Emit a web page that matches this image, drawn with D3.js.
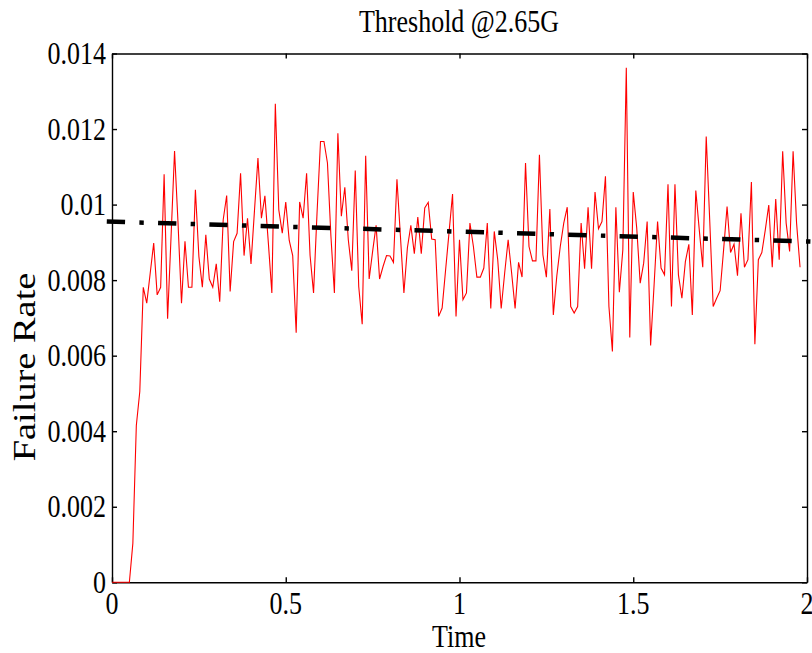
<!DOCTYPE html>
<html>
<head>
  <title>Threshold @2.65G</title>
  <script src="https://d3js.org/d3.v7.min.js"></script>
  <style>
    body { margin: 0; background: #fff; }
    text { font-family: "Liberation Serif", "Times New Roman", serif; fill: #000; }
  </style>
</head>
<body>
<script type="text/javascript">

// ****** DATA ******

  // failure rate sampled every 0.01 time units, starting at t = 0
  var timeStep = 0.01;
  var failureRate = [
    0, 0, 0, 0, 0, 0, 0.00103, 0.00415, 0.00505, 0.00781,
    0.00739, 0.00819, 0.00898, 0.00761, 0.00781, 0.0108, 0.00698, 0.00916, 0.01142, 0.00951,
    0.00739, 0.00903, 0.00781, 0.00781, 0.01039, 0.00863, 0.00781, 0.0092, 0.00803, 0.00781,
    0.00843, 0.00743, 0.0096, 0.01024, 0.0077, 0.00902, 0.00924, 0.01083, 0.00865, 0.00964,
    0.00843, 0.00984, 0.01123, 0.00964, 0.01023, 0.00898, 0.00766, 0.01267, 0.00986, 0.00924,
    0.01007, 0.00905, 0.00865, 0.00661, 0.01007, 0.00964, 0.01083, 0.00865, 0.00766, 0.00977,
    0.01167, 0.01167, 0.0111, 0.00916, 0.00766, 0.01189, 0.00969, 0.01046, 0.00907, 0.00825,
    0.0109, 0.00783, 0.00683, 0.01129, 0.00803, 0.00876, 0.00945, 0.00803, 0.00836, 0.00865,
    0.00864, 0.00847, 0.01067, 0.00916, 0.00766, 0.00885, 0.00945, 0.0087, 0.00967, 0.0087,
    0.00991, 0.01006, 0.00909, 0.00907, 0.00704, 0.00726, 0.00827, 0.00927, 0.01028, 0.00704,
    0.00907, 0.00748, 0.00766, 0.00951, 0.00889, 0.00808, 0.00808, 0.00832, 0.00951, 0.00725,
    0.00929, 0.00854, 0.00725, 0.00819, 0.00907, 0.00819, 0.00725, 0.00847, 0.00808, 0.0111,
    0.00889, 0.00851, 0.00851, 0.01132, 0.00867, 0.00808, 0.00988, 0.00708, 0.00811, 0.00889,
    0.00951, 0.00993, 0.0073, 0.00713, 0.0073, 0.00951, 0.0083, 0.00993, 0.0083, 0.01033,
    0.00936, 0.00955, 0.01075, 0.0073, 0.00611, 0.00993, 0.00768, 0.0088, 0.01362, 0.00648,
    0.01033, 0.00938, 0.00792, 0.00845, 0.00955, 0.00627, 0.00788, 0.00955, 0.00832, 0.00814,
    0.01054, 0.0073, 0.01054, 0.00814, 0.00752, 0.00849, 0.00895, 0.00708, 0.01037, 0.00933,
    0.00834, 0.0118, 0.0096, 0.0073, 0.00752, 0.00772, 0.0088, 0.00995, 0.00873, 0.00895,
    0.00812, 0.00977, 0.00834, 0.00854, 0.0106, 0.0063, 0.00854, 0.00873, 0.00933, 0.00999,
    0.00834, 0.01015, 0.00854, 0.01141, 0.00951, 0.00876, 0.01141, 0.00951, 0.00834
  ];
  var points = failureRate.map(function (d, i) { return { t: i * timeStep, v: d }; });

  // linear trend (dash-dot), end points
  var fitTime = [-0.015, 2.012];
  var fitRate = [0.00955, 0.00902];

  var xTicks = [0, 0.5, 1, 1.5, 2],
      xTickLabels = ["0", "0.5", "1", "1.5", "2"];
  var yTicks = [0, 0.002, 0.004, 0.006, 0.008, 0.01, 0.012, 0.014],
      yTickLabels = ["0", "0.002", "0.004", "0.006", "0.008", "0.01", "0.012", "0.014"];

  var width = 812,
      height = 653;
  // the picture is a little taller than the font, stretch text vertically
  var stretch = 1.2;


// ****** SCALES ******

  var x = d3.scaleLinear().domain([0, 2]).range([112, 807]);
  var y = d3.scaleLinear().domain([0, 0.014]).range([582.3, 53.5]);


// ****** CREATE ELEMENTS ******

  var svg = d3.select("body")
    .append("svg")
    .attr("width", width)
    .attr("height", height);

  svg.append("rect")
    .attr("width", width)
    .attr("height", height)
    .attr("fill", "#fff");

  // axes, ticks point inward on all four sides
  svg.append("g")
    .attr("transform", "translate(0," + y(0) + ")")
    .call(d3.axisBottom(x).tickValues(xTicks).tickSize(-5).tickSizeOuter(0).tickFormat(""));
  svg.append("g")
    .attr("transform", "translate(0," + y(0.014) + ")")
    .call(d3.axisTop(x).tickValues(xTicks).tickSize(-5).tickSizeOuter(0).tickFormat(""));
  svg.append("g")
    .attr("transform", "translate(" + x(0) + ",0)")
    .call(d3.axisLeft(y).tickValues(yTicks).tickSize(-5).tickSizeOuter(0).tickFormat(""));
  svg.append("g")
    .attr("transform", "translate(" + x(2) + ",0)")
    .call(d3.axisRight(y).tickValues(yTicks).tickSize(-5).tickSizeOuter(0).tickFormat(""));

  svg.selectAll(".domain, .tick line")
    .attr("stroke", "#000")
    .attr("stroke-width", 1.4);

  // red measured line, drawn over the axes
  var line = d3.line()
    .x(function (d) { return x(d.t); })
    .y(function (d) { return y(d.v); });

  svg.append("path")
    .datum(points)
    .attr("d", line)
    .attr("fill", "none")
    .attr("stroke", "#ff0000")
    .attr("stroke-width", 1.1)
    .attr("stroke-linejoin", "miter");

  // trend line
  svg.append("path")
    .datum(d3.zip(fitTime, fitRate))
    .attr("d", d3.line()
      .x(function (d) { return x(d[0]); })
      .y(function (d) { return y(d[1]); }))
    .attr("fill", "none")
    .attr("stroke", "#000")
    .attr("stroke-width", 4.5)
    .attr("stroke-dasharray", "18.3,14.3,4.4,14.3");

  // tick labels
  svg.selectAll(".xlabel")
    .data(xTicks)
    .enter()
    .append("text")
    .attr("class", "xlabel")
    .attr("transform", function (d) { return "translate(" + x(d) + ",614) scale(1," + stretch + ")"; })
    .attr("text-anchor", "middle")
    .style("font-size", "26px")
    .text(function (d, i) { return xTickLabels[i]; });

  svg.selectAll(".ylabel")
    .data(yTicks)
    .enter()
    .append("text")
    .attr("class", "ylabel")
    .attr("transform", function (d) { return "translate(106," + y(d) + ") scale(1," + stretch + ")"; })
    .attr("text-anchor", "end")
    .attr("dy", "0.34em")
    .style("font-size", "26px")
    .text(function (d, i) { return yTickLabels[i]; });

  // titles
  svg.append("text")
    .attr("transform", "translate(459,32) scale(1," + stretch + ")")
    .attr("text-anchor", "middle")
    .style("font-size", "26px")
    .text("Threshold @2.65G");

  svg.append("text")
    .attr("transform", "translate(459,647) scale(1," + stretch + ")")
    .attr("text-anchor", "middle")
    .style("font-size", "26px")
    .text("Time");

  svg.append("text")
    .attr("transform", "translate(35,367) scale(1," + stretch + ") rotate(-90)")
    .attr("text-anchor", "middle")
    .style("font-size", "32px")
    .text("Failure Rate");
</script>
</body>
</html>
